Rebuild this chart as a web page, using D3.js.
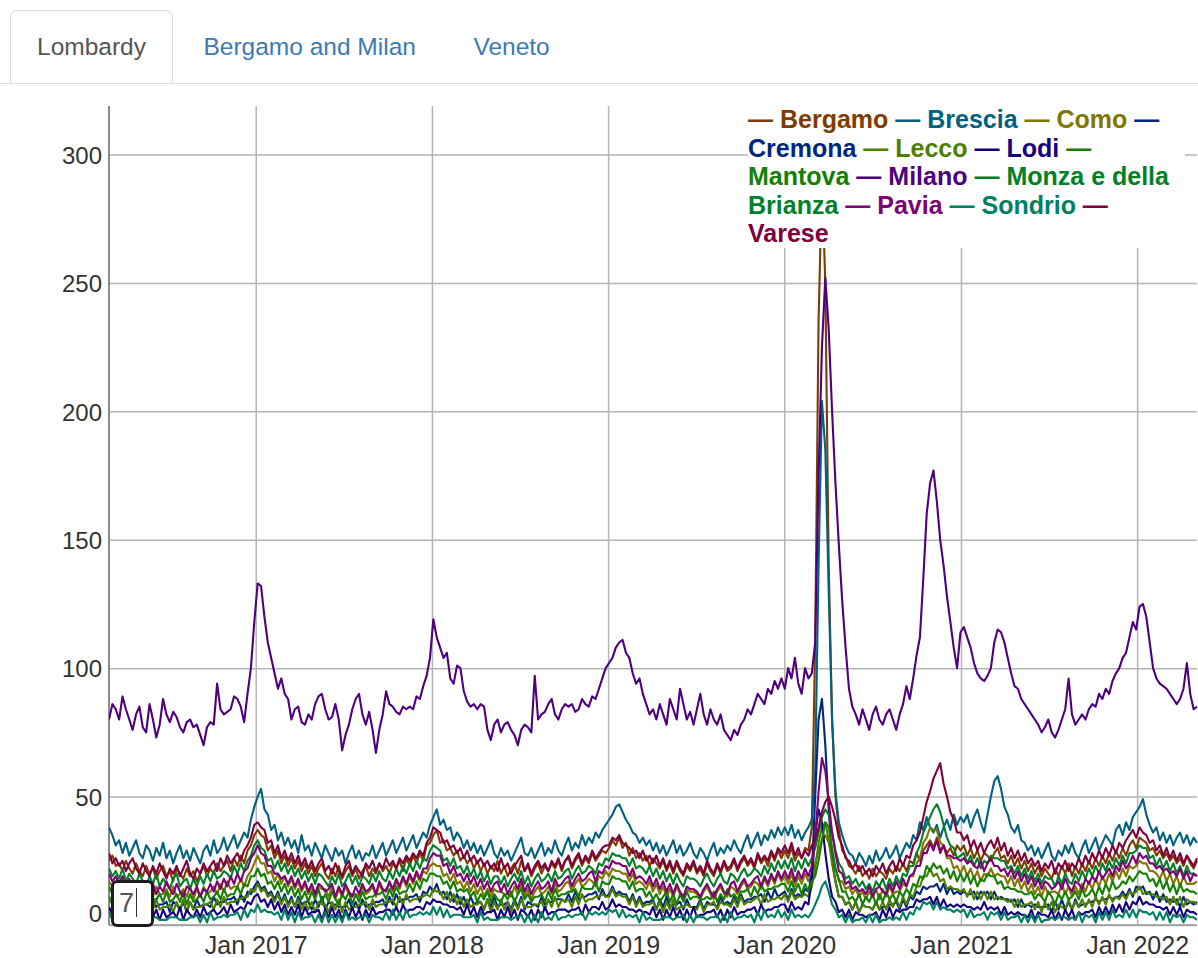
<!DOCTYPE html>
<html>
<head>
<meta charset="utf-8">
<title>Lombardy – daily deaths by province</title>
<script src="https://cdn.jsdelivr.net/npm/d3@7"></script>
<style>
  html, body { margin: 0; padding: 0; background: #fff; }
  body { width: 1198px; height: 958px; position: relative; overflow: hidden;
         font-family: "Liberation Sans", Arial, Helvetica, sans-serif; }
  #tabs { position: absolute; left: 0; top: 0; width: 1198px; height: 86px; }
  #tabs .rule { position: absolute; left: 0; width: 1198px; top: 82.5px; height: 1.75px; background: #ddd; }
  #tabs ul { list-style: none; margin: 0; padding: 0 0 0 10px; display: flex; position: absolute; top: 10px; left: 0; }
  #tabs li { margin-right: 3.5px; position: relative; z-index: 1; }
  #tabs a { display: block; padding: 17.5px 26px 19.75px; line-height: 35px; font-size: 24.5px;
            border: 1.75px solid transparent; border-bottom: 0; border-radius: 7px 7px 0 0;
            color: #3d7ab3; text-decoration: none; }
  #tabs li.active a { color: #555; background: #fff; border-color: #ddd; }
  #chart { position: absolute; left: 0; top: 0; }
  #legend { position: absolute; left: 748px; top: 105px; width: 437px; background: #fff;
            font-size: 25px; font-weight: bold; line-height: 28.5px; z-index: 2; }
  #roller { position: absolute; left: 111px; top: 880px; width: 43px; height: 47px; box-sizing: border-box;
            border: 3px solid #1c1c1c; border-radius: 6px; background: #fff; z-index: 2;
            font-size: 27px; line-height: 40px; color: #555; padding-left: 5px; }
  #roller .caret { display: inline-block; width: 0; height: 29px; border-left: 1.6px solid #333;
                   vertical-align: -5px; margin-left: 2px; }
</style>
</head>
<body>
<div id="tabs">
  <div class="rule"></div>
  <ul>
    <li class="active"><a>Lombardy</a></li>
    <li><a>Bergamo and Milan</a></li>
    <li><a>Veneto</a></li>
  </ul>
</div>
<div id="chart"></div>
<div id="legend"></div>
<div id="roller"><span class="val">7</span><span class="caret"></span></div>

<script>
// Weekly values of the 7-day rolling mean of daily deaths, one row per calendar year
// (2016 starts on 3 March, 2022 ends in early May).
const bergamo = [
  25,27,23,24,21,25,22,20,24,21, 19,23,20,22,18,21,23,19,21,17, 22,20,18,22,19,21,17,20,23,19, 22,20,24,21,23,25,21,26,23,27, 24,29,31,35,
  37,35,34,29,31,26,29,24,27,23, 26,22,25,21,24,20,23,19,22,24, 20,18,22,19,23,18,21,23,19,22, 18,21,23,19,22,20,24,21,23,20, 24,22,25,21,26,23,27,24,28,25, 31,32,
  35,37,32,33,29,30,27,29,25,27, 24,26,22,25,21,24,20,23,21,25, 20,23,19,22,24,20,25,21,23,19, 22,24,20,23,21,24,22,25,21,25, 26,22,25,27,23,26,24,28,25,27, 29,28,
  30,33,31,34,30,32,27,30,26,28, 25,27,23,26,24,22,25,21,24,20, 24,21,19,23,21,24,20,22,19,24, 21,19,23,20,24,21,22,25,21,24, 26,23,25,22,27,24,26,23,28,25, 29,26,
  29,26,30,25,28,26,30,29,38,110, 235,290,250,140,80,50,37,29,27,23, 22,20,23,19,21,18,22,19,21,20, 18,22,20,23,21,24,21,25,24,28, 25,29,31,33,30,34,29,31,28,30, 27,31,29,
  31,27,30,26,29,25,28,27,25,28, 30,26,27,24,27,23,26,22,25,21, 24,20,23,19,22,20,18,22,19,23, 20,24,19,23,20,24,21,25,22,26, 23,27,24,28,25,29,26,30,27,31, 33,30,
  34,33,32,29,30,27,29,26,28,25, 27,24,26,23,27,24,22,25
];
const brescia = [
  38,35,31,33,28,32,27,30,33,28, 26,31,29,25,30,27,32,26,29,24, 28,31,26,29,25,30,27,24,29,31, 27,33,28,30,34,29,32,35,30,33, 36,34,41,46,
  50,53,45,43,37,39,33,36,31,34, 30,33,28,35,29,31,27,32,29,26, 31,28,25,30,27,29,24,28,31,26, 29,25,28,27,31,26,29,32,27,30, 33,28,31,34,29,32,35,30,33,36, 34,39,
  42,45,39,41,37,38,33,36,34,30, 33,29,32,28,31,27,30,33,28,26, 30,27,29,25,28,31,34,28,27,30, 26,29,32,27,30,28,33,29,27,31, 34,29,32,30,35,31,34,32,36,34, 37,39,
  41,43,46,47,44,41,39,36,35,32, 34,31,33,29,32,28,31,27,30,33, 28,31,27,29,32,28,26,30,28,25, 29,32,27,30,28,31,29,33,30,28, 32,35,30,33,36,31,35,33,37,34, 38,35,
  38,35,39,34,37,33,36,38,41,60, 140,204,185,130,80,52,40,35,31,28, 27,24,28,26,23,27,24,29,25,27, 30,26,28,31,26,29,32,30,35,33, 40,37,42,38,36,39,34,38,41,37, 43,39,42,
  40,43,38,42,45,40,36,43,50,56, 58,53,46,43,38,36,39,33,32,29, 31,27,30,26,29,32,27,25,29,27, 31,28,32,28,26,30,33,28,31,34, 29,32,35,33,31,37,39,35,40,37, 42,44,
  46,49,43,39,36,38,33,36,32,35, 31,34,36,32,35,31,34,32
];
const como = [
  17,15,16,14,15,13,16,13,15,11, 15,12,16,11,15,12,12,14,11,15, 11,12,14,11,15,10,14,11,15,12, 13,15,12,16,13,17,14,15,15,18, 15,19,21,24,
  27,24,24,20,21,17,20,16,19,15, 18,14,17,13,16,12,15,11,15,14, 14,11,15,10,14,11,15,12,12,12, 11,15,12,13,15,11,16,13,14,16, 13,17,14,18,15,19,16,20,17,21, 20,23,
  24,23,23,19,20,17,20,16,17,14, 17,13,16,12,15,11,14,11,14,13, 13,12,12,11,15,12,16,11,14,10, 13,15,12,13,15,12,16,13,14,16, 17,13,16,18,15,16,18,17,15,19, 18,21,
  19,22,21,21,20,20,17,20,16,17, 16,14,17,13,16,12,15,11,14,11, 15,12,10,14,13,13,12,10,13,15, 12,10,13,15,12,11,15,14,12,15, 17,14,15,17,16,14,18,15,19,16, 20,17,
  19,16,20,15,19,16,20,17,20,24, 29,33,35,32,27,22,17,17,14,15, 12,14,11,13,10,13,11,14,10,14, 11,15,12,13,13,16,15,19,19,24, 26,32,34,38,37,37,32,31,26,26, 22,23,20,
  23,19,22,18,21,17,20,19,22,19, 20,19,19,16,19,15,18,14,17,13, 16,12,15,11,15,12,13,13,12,16, 12,15,11,15,12,16,13,17,14,18, 15,19,16,20,17,21,18,22,19,23, 22,23,
  25,24,24,21,21,20,18,21,17,20, 16,19,15,19,16,16,16,17
];
const cremona = [
  11,8,12,7,10,9,7,11,6,10, 7,11,6,10,7,8,8,9,5,9, 8,6,9,5,9,6,10,7,8,8, 7,11,8,9,9,10,10,11,8,12, 9,13,12,15,
  17,14,15,12,13,10,13,9,12,8, 11,7,11,8,9,9,6,10,7,11, 6,9,8,8,7,7,7,10,6,9, 6,10,7,8,8,9,9,10,7,11, 8,12,9,10,10,11,11,12,9,13, 12,15,
  13,16,12,13,10,13,9,12,8,11, 7,11,8,9,9,6,10,7,11,7, 8,8,9,6,10,7,11,6,9,8, 8,7,11,8,9,9,10,10,10,9, 12,9,13,10,11,11,12,12,13,10, 14,11,
  12,15,12,13,12,12,9,12,8,11, 8,9,9,10,6,10,7,11,7,8, 8,9,6,10,7,7,7,10,6,9, 8,8,7,11,8,9,8,11,8,12, 9,10,10,11,11,12,9,13,10,14, 11,12,
  13,10,14,11,12,11,14,13,20,50, 80,88,70,45,25,17,11,11,8,9, 6,9,5,8,7,7,6,9,6,7, 7,8,8,9,6,10,7,11,10,13, 12,15,14,15,15,16,13,16,12,15, 12,13,12,
  13,12,12,13,10,13,12,13,10,13, 10,11,10,10,9,10,7,10,7,8, 7,8,7,7,7,8,5,9,6,10, 6,9,6,10,7,8,8,9,9,10, 9,10,10,11,10,11,11,13,11,14, 11,15,
  14,15,12,13,10,13,9,12,9,10, 9,10,7,11,8,9,8,9
];
const lecco = [
  11,8,9,9,10,6,10,7,8,8, 9,5,9,6,10,6,7,7,8,5, 9,6,10,5,9,6,7,7,8,8, 9,6,10,7,11,8,9,9,10,10, 11,11,14,13,
  16,13,14,11,12,9,12,8,11,7, 10,7,10,6,9,6,9,5,9,8, 8,5,9,6,10,5,9,6,7,7, 8,8,9,6,10,7,8,8,9,9, 10,7,11,8,12,9,10,10,11,11, 12,11,
  14,13,13,10,13,9,12,8,11,7, 10,7,8,8,9,6,10,5,9,6, 10,6,9,5,9,6,10,7,7,7, 8,8,9,6,10,7,11,7,10,9, 10,7,11,8,12,9,10,10,11,11, 12,11,
  11,14,11,12,11,11,8,11,7,10, 7,8,8,9,6,9,5,9,6,10, 6,7,7,8,7,7,6,9,5,8, 8,9,6,9,8,8,7,10,7,11, 8,9,9,10,11,8,12,9,10,10, 11,10,
  12,9,13,10,11,11,12,11,15,22, 32,38,40,33,24,17,11,11,8,9, 6,9,5,8,7,7,6,9,6,9, 6,10,7,10,7,11,8,12,11,15, 15,19,19,22,19,20,17,18,14,15, 14,14,13,
  14,11,14,10,13,10,13,10,13,10, 11,10,10,9,10,7,10,7,8,8, 9,6,9,5,9,6,9,5,8,7, 6,10,6,9,7,10,7,10,7,11, 8,11,8,12,9,11,10,12,10,13, 12,13,
  15,12,13,12,12,11,11,10,11,8, 11,8,11,7,10,9,9,8
];
const lodi = [
  7,4,7,3,6,5,3,7,4,4, 6,3,7,3,6,2,6,3,4,5, 3,7,2,6,4,3,6,3,7,4, 5,6,4,5,7,4,8,5,6,7, 6,9,8,11,
  12,9,10,7,10,6,9,5,8,4, 7,4,8,3,7,4,5,5,6,2, 6,3,7,3,6,2,6,3,7,3, 6,2,6,3,7,4,5,5,6,6, 4,7,4,8,5,6,6,7,7,6, 9,8,
  10,9,9,8,8,7,7,6,7,4, 8,4,7,3,7,4,5,5,6,2, 6,3,7,3,6,2,6,5,3,6, 2,6,3,7,4,5,5,6,6,6, 5,6,6,7,4,8,5,7,7,6, 9,6,
  7,10,7,8,7,7,6,6,5,6, 5,5,4,7,3,6,2,6,3,7, 3,6,2,6,3,7,3,4,4,5, 5,6,3,6,2,6,3,7,4,5, 5,6,6,7,4,8,5,6,6,7, 7,8,
  8,5,9,6,7,6,9,8,18,35, 45,40,28,18,11,9,5,6,3,6, 2,5,4,4,3,4,4,5,2,6, 3,7,3,6,5,6,6,7,7,10, 9,10,10,11,8,11,7,10,7,8, 7,8,7,
  8,7,7,6,7,6,9,6,7,6, 7,4,7,4,5,4,5,4,4,3, 6,2,5,4,4,3,6,2,5,2, 6,3,6,2,5,4,5,5,6,3, 7,4,7,4,8,5,8,5,9,6, 9,8,
  11,8,9,8,8,7,7,6,7,4, 7,4,7,3,6,5,5,4
];
const mantova = [
  15,12,13,13,11,14,11,10,13,10, 14,9,13,10,10,12,9,13,9,10, 12,9,13,8,12,9,10,12,9,13, 10,11,13,10,14,11,12,12,15,12, 16,15,19,19,
  22,19,20,16,17,14,17,13,16,12, 15,11,14,10,13,9,13,10,14,9, 12,9,13,10,8,12,10,13,8,12, 9,13,10,11,11,12,12,13,10,14, 11,15,12,13,13,16,13,17,14,18, 17,20,
  20,19,19,16,17,14,17,13,14,13, 14,11,13,9,12,10,13,9,12,10, 9,12,10,13,9,12,14,10,12,9, 11,11,12,9,13,10,14,11,12,12, 13,13,14,11,15,14,14,14,17,13, 17,16,
  16,19,18,18,17,17,14,17,13,14, 14,11,13,10,12,9,11,13,9,12, 8,12,9,13,10,11,11,10,10,11, 10,13,9,12,10,14,11,12,10,13, 13,14,11,15,12,16,13,14,14,15, 15,16,
  16,13,17,13,16,12,16,13,17,19, 25,33,40,38,30,22,18,13,13,10, 11,9,12,8,11,9,12,8,12,9, 13,10,12,9,13,11,14,12,16,15, 19,18,23,21,24,22,23,20,22,18, 21,17,20,
  17,20,16,19,15,18,17,20,19,19, 16,17,14,15,14,14,13,13,12,12, 13,10,12,11,9,13,11,8,12,10, 13,10,11,13,10,14,11,12,14,11, 15,12,16,13,17,14,15,17,16,19, 17,19,
  21,20,20,17,18,15,18,14,17,13, 16,12,16,13,14,13,13,12
];
const milano = [
  80,86,84,80,89,84,80,76,82,85, 77,75,86,80,73,78,88,82,79,83, 81,77,75,79,80,77,78,74,70,77, 79,78,94,84,82,83,84,89,88,85, 79,90,100,118,
  133,132,120,110,104,98,92,96,90,88, 80,84,85,79,78,82,80,86,89,90, 84,80,81,86,80,68,74,78,84,88, 90,82,78,83,76,67,76,82,91,86, 85,83,82,85,84,85,84,89,88,93, 97,104,
  119,112,108,104,106,96,94,101,100,91, 87,85,86,84,86,85,76,72,78,80, 75,78,79,76,74,70,76,78,77,75, 97,80,82,83,86,88,82,80,84,86, 85,86,83,84,88,86,85,89,88,92, 96,100,
  102,104,108,110,111,106,104,98,94,96, 90,86,82,84,80,86,82,78,88,84, 80,92,86,80,83,78,84,90,82,78, 84,80,78,82,76,74,72,76,74,78, 80,84,82,86,90,88,86,92,90,95, 92,96,
  92,100,96,104,94,90,100,96,98,110, 175,225,252,232,200,172,148,126,108,92, 85,82,78,84,80,76,82,85,80,78, 82,84,80,76,82,86,93,88,96,105, 112,135,160,172,177,165,150,140,128,118, 108,100,114,
  116,112,108,102,98,96,95,97,100,110, 115,114,110,104,98,93,92,88,86,84, 82,80,78,75,77,80,75,73,76,80, 84,96,82,78,80,82,80,84,86,85, 90,88,92,90,95,98,100,104,106,112, 118,115,
  124,125,120,110,100,96,94,93,92,90, 88,86,88,92,102,90,84,85
];
const monza = [
  22,19,21,18,22,17,20,18,16,20, 17,15,19,16,20,15,18,16,14,18, 20,15,17,18,14,18,15,19,16,20, 17,21,18,19,21,20,18,23,20,24, 21,25,27,31,
  33,30,29,25,26,22,25,21,24,20, 23,19,22,18,21,17,20,16,20,19, 17,15,19,16,20,15,17,20,16,19, 15,19,18,16,20,17,21,18,17,21, 18,22,19,23,20,24,21,25,22,26, 25,29,
  31,30,29,25,26,23,26,22,23,20, 23,19,22,18,21,17,20,16,19,19, 16,19,15,18,20,17,21,16,19,15, 18,20,17,18,20,17,21,18,19,21, 22,18,21,23,20,21,23,22,20,24, 23,26,
  25,28,27,27,26,26,23,26,22,23, 22,20,23,19,22,18,21,17,20,16, 20,17,15,19,18,18,17,15,18,20, 17,15,18,20,17,16,20,19,17,20, 22,19,20,22,21,19,23,20,24,21, 25,22,
  25,22,26,21,25,22,26,23,26,30, 36,42,45,43,36,29,24,22,18,19, 16,18,15,17,14,16,13,17,15,18, 14,18,15,19,16,20,19,23,23,28, 31,36,39,42,45,47,44,39,34,31, 30,26,27,
  28,24,27,23,26,22,25,24,27,26, 26,25,25,22,23,20,23,19,22,18, 21,17,20,16,19,18,18,15,19,16, 20,17,16,20,17,21,18,22,19,23, 20,24,21,25,22,26,23,27,24,28, 28,29,
  31,30,30,26,27,23,26,22,25,21, 24,20,23,19,23,20,20,19
];
const pavia = [
  20,17,19,16,19,15,18,14,17,16, 14,17,13,16,12,15,13,17,14,12, 16,13,11,15,14,12,15,11,14,13, 16,13,17,14,18,15,19,16,20,17, 21,22,26,28,
  31,28,27,23,23,20,20,18,19,16, 19,15,18,14,17,13,16,12,16,15, 13,14,16,11,15,12,16,13,11,15, 12,16,13,14,16,12,17,14,13,17, 14,18,15,19,16,20,17,21,18,22, 22,26,
  28,27,27,23,24,20,23,19,20,17, 20,16,19,15,18,14,17,13,16,17, 13,16,12,15,17,14,18,13,16,12, 15,17,14,15,17,13,18,15,16,18, 19,15,18,20,17,18,20,21,17,21, 20,23,
  22,25,24,24,23,23,19,22,18,19, 18,16,19,15,18,14,17,13,16,12, 16,13,11,15,14,14,13,11,14,16, 13,11,14,16,13,12,16,17,13,16, 18,15,16,18,19,15,19,16,20,17, 21,18,
  21,18,22,17,21,18,22,19,23,34, 52,65,60,48,36,28,21,20,16,17, 14,15,13,14,12,15,11,14,15,13, 12,16,13,17,14,18,15,19,20,23, 23,28,28,32,29,33,28,31,27,27, 26,26,25,
  26,24,25,23,22,25,21,24,26,23, 23,21,22,19,22,18,21,17,20,16, 19,15,18,14,17,16,14,15,17,14, 18,15,13,17,16,14,18,16,19,17, 21,18,20,22,19,23,21,25,22,24, 27,24,
  28,26,27,24,24,22,23,21,22,20, 21,19,22,18,21,17,20,19
];
const sondrio = [
  5,2,5,3,4,2,5,2,3,3, 4,1,4,3,3,2,2,2,3,3, 3,2,2,2,3,3,4,1,4,1, 5,2,3,3,4,3,4,4,5,2, 6,3,6,5,
  8,5,6,5,5,4,5,2,6,2, 5,1,5,2,3,3,4,1,4,1, 5,1,4,1,4,1,5,2,3,2, 3,3,4,1,4,3,3,2,5,2, 6,2,5,2,6,3,4,4,5,4, 5,4,
  7,4,7,3,6,3,4,4,4,3, 3,3,4,1,5,2,3,2,2,2, 3,3,3,2,3,3,4,1,4,1, 4,1,5,2,3,2,5,2,3,3, 4,3,4,4,5,2,5,4,5,4, 5,4,
  6,5,6,3,6,3,4,3,4,1, 5,2,3,2,2,2,3,3,3,2, 3,3,4,1,4,1,4,3,3,2, 3,3,4,1,4,1,5,2,3,3, 4,3,4,1,5,2,6,3,4,3, 6,3,
  5,2,6,3,4,3,4,3,5,8, 11,15,17,13,8,6,3,4,1,4, 1,2,2,3,1,4,1,4,1,2, 2,3,2,3,2,5,2,5,4,7, 6,9,8,9,6,9,6,7,6,6, 5,6,5,
  6,3,6,3,4,4,5,2,5,4, 5,2,5,2,3,3,4,1,4,1, 4,1,4,1,2,2,3,2,3,3, 3,2,3,2,5,1,4,3,4,1, 5,2,5,2,6,3,4,3,6,3, 6,3,
  6,5,5,4,5,2,5,2,5,1, 4,3,4,1,4,3,3,2
];
const varese = [
  28,24,26,23,25,21,24,26,22,20, 24,21,19,23,20,24,21,18,22,20, 23,19,22,25,20,18,22,20,24,21, 23,25,21,26,23,27,24,26,28,25, 29,31,34,39,
  40,38,37,32,33,28,31,26,29,25, 28,24,27,23,26,22,25,21,24,26, 21,23,20,24,21,19,23,25,20,23, 21,19,24,22,25,21,24,22,26,23, 25,22,26,24,27,25,28,26,29,27, 32,34,
  38,37,36,32,33,30,31,28,30,26, 29,25,27,24,26,23,25,22,24,21, 26,22,24,20,23,25,27,21,24,20, 23,25,22,24,21,25,23,26,22,25, 27,23,26,28,24,27,25,29,26,28, 30,31,
  31,34,33,35,32,31,30,28,29,26, 29,25,27,24,27,23,26,22,25,21, 25,22,20,24,22,25,21,23,20,25, 22,20,24,21,25,22,23,26,22,25, 27,24,26,23,28,25,27,25,29,26, 30,28,
  31,28,32,27,30,26,29,27,31,33, 38,44,48,50,46,41,34,31,26,25, 22,24,21,23,20,22,19,23,21,24, 20,23,25,21,26,23,27,26,31,33, 36,42,48,52,57,60,63,55,50,44, 41,36,36,
  33,35,30,33,29,32,28,31,33,30, 34,29,32,27,30,26,29,25,28,24, 26,23,25,21,24,22,25,20,24,22, 25,21,24,22,26,23,27,24,28,25, 29,26,30,27,31,28,32,30,33,35, 37,34,
  38,36,35,32,33,29,31,27,30,26, 29,25,28,24,27,25,23,26
];

const provinces = ["Bergamo", "Brescia", "Como", "Cremona", "Lecco", "Lodi", "Mantova",
                   "Milano", "Monza e della Brianza", "Pavia", "Sondrio", "Varese"];
const seriesValues = [bergamo, brescia, como, cremona, lecco, lodi, mantova,
                      milano, monza, pavia, sondrio, varese];
const seriesColors = ["rgb(128,59,0)", "rgb(0,98,128)", "rgb(128,118,0)", "rgb(0,39,128)",
                      "rgb(78,128,0)", "rgb(20,0,128)", "rgb(20,128,0)", "rgb(78,0,128)",
                      "rgb(0,128,39)", "rgb(128,0,118)", "rgb(0,128,98)", "rgb(128,0,59)"];
const firstWeek = new Date(2016, 2, 3);
const yTicks = [0, 50, 100, 150, 200, 250, 300];
const xTickYears = [2017, 2018, 2019, 2020, 2021, 2022];
const rollPeriod = 7;

// ---- layout ----
const W = 1198, H = 958;
const plot = { left: 109, top: 106, right: 1197, bottom: 925 };
const font = '"Liberation Sans", Arial, Helvetica, sans-serif';

const dates = d3.range(milano.length).map(i => d3.timeDay.offset(firstWeek, 7 * i));
const x = d3.scaleTime().domain(d3.extent(dates)).range([plot.left, plot.right]);
const all = seriesValues.flat();
const lo = d3.min(all), hi = d3.max(all);
// value range padded by 10% of its span on top, floored at zero
const y = d3.scaleLinear().domain([Math.max(0, lo - 0.1 * (hi - lo)), hi + 0.1 * (hi - lo)])
  .range([plot.bottom, plot.top]);

const svg = d3.select("#chart").append("svg").attr("width", W).attr("height", H);

// vertical grid + x labels
const gx = svg.append("g")
  .attr("transform", `translate(0,${plot.bottom})`)
  .call(d3.axisBottom(x)
    .tickValues(xTickYears.map(yr => new Date(yr, 0, 1)))
    .tickFormat(d3.timeFormat("%b %Y"))
    .tickSize(-(plot.bottom - plot.top))
    .tickPadding(11));
gx.select(".domain").remove();
gx.selectAll(".tick line").attr("stroke", "#b5b5b5").attr("stroke-width", 1.5);
gx.selectAll(".tick text").attr("font-size", 25).attr("font-family", font).attr("fill", "#333");

// horizontal grid + y labels
const gy = svg.append("g")
  .attr("transform", `translate(${plot.left},0)`)
  .call(d3.axisLeft(y)
    .tickValues(yTicks)
    .tickSize(-(plot.right - plot.left))
    .tickPadding(7));
gy.select(".domain").remove();
gy.selectAll(".tick line").attr("stroke", "#b5b5b5").attr("stroke-width", 1.5);
gy.selectAll(".tick text").attr("font-size", 24).attr("font-family", font).attr("fill", "#333")
  .attr("dy", d => d === 0 ? "-0.15em" : "0.36em");

// axis lines
svg.append("line").attr("x1", plot.left).attr("x2", plot.left)
  .attr("y1", plot.top).attr("y2", plot.bottom).attr("stroke", "#8a8a8a").attr("stroke-width", 2);
svg.append("line").attr("x1", plot.left).attr("x2", plot.right)
  .attr("y1", plot.bottom).attr("y2", plot.bottom).attr("stroke", "#9a9a9a").attr("stroke-width", 1.6);

// series
svg.append("clipPath").attr("id", "plot-clip").append("rect")
  .attr("x", plot.left).attr("y", plot.top)
  .attr("width", plot.right - plot.left + 2).attr("height", plot.bottom - plot.top);

const line = d3.line().x((d, i) => x(dates[i])).y(d => y(d));
svg.append("g").attr("clip-path", "url(#plot-clip)")
  .selectAll("path").data(seriesValues).join("path")
  .attr("d", line)
  .attr("fill", "none")
  .attr("stroke", (d, i) => seriesColors[i])
  .attr("stroke-width", 2.1)
  .attr("stroke-linejoin", "round");

// legend: every word its own span so each line wraps cleanly
d3.select("#legend").html(
  provinces.map((p, i) => ["\u2014", ...p.split(" ")]
      .map(w => `<span style="color:${seriesColors[i]}">${w}</span>`).join(" "))
    .join(" ")
);

// roll period box
d3.select("#roller .val").text(rollPeriod);
</script>
</body>
</html>
